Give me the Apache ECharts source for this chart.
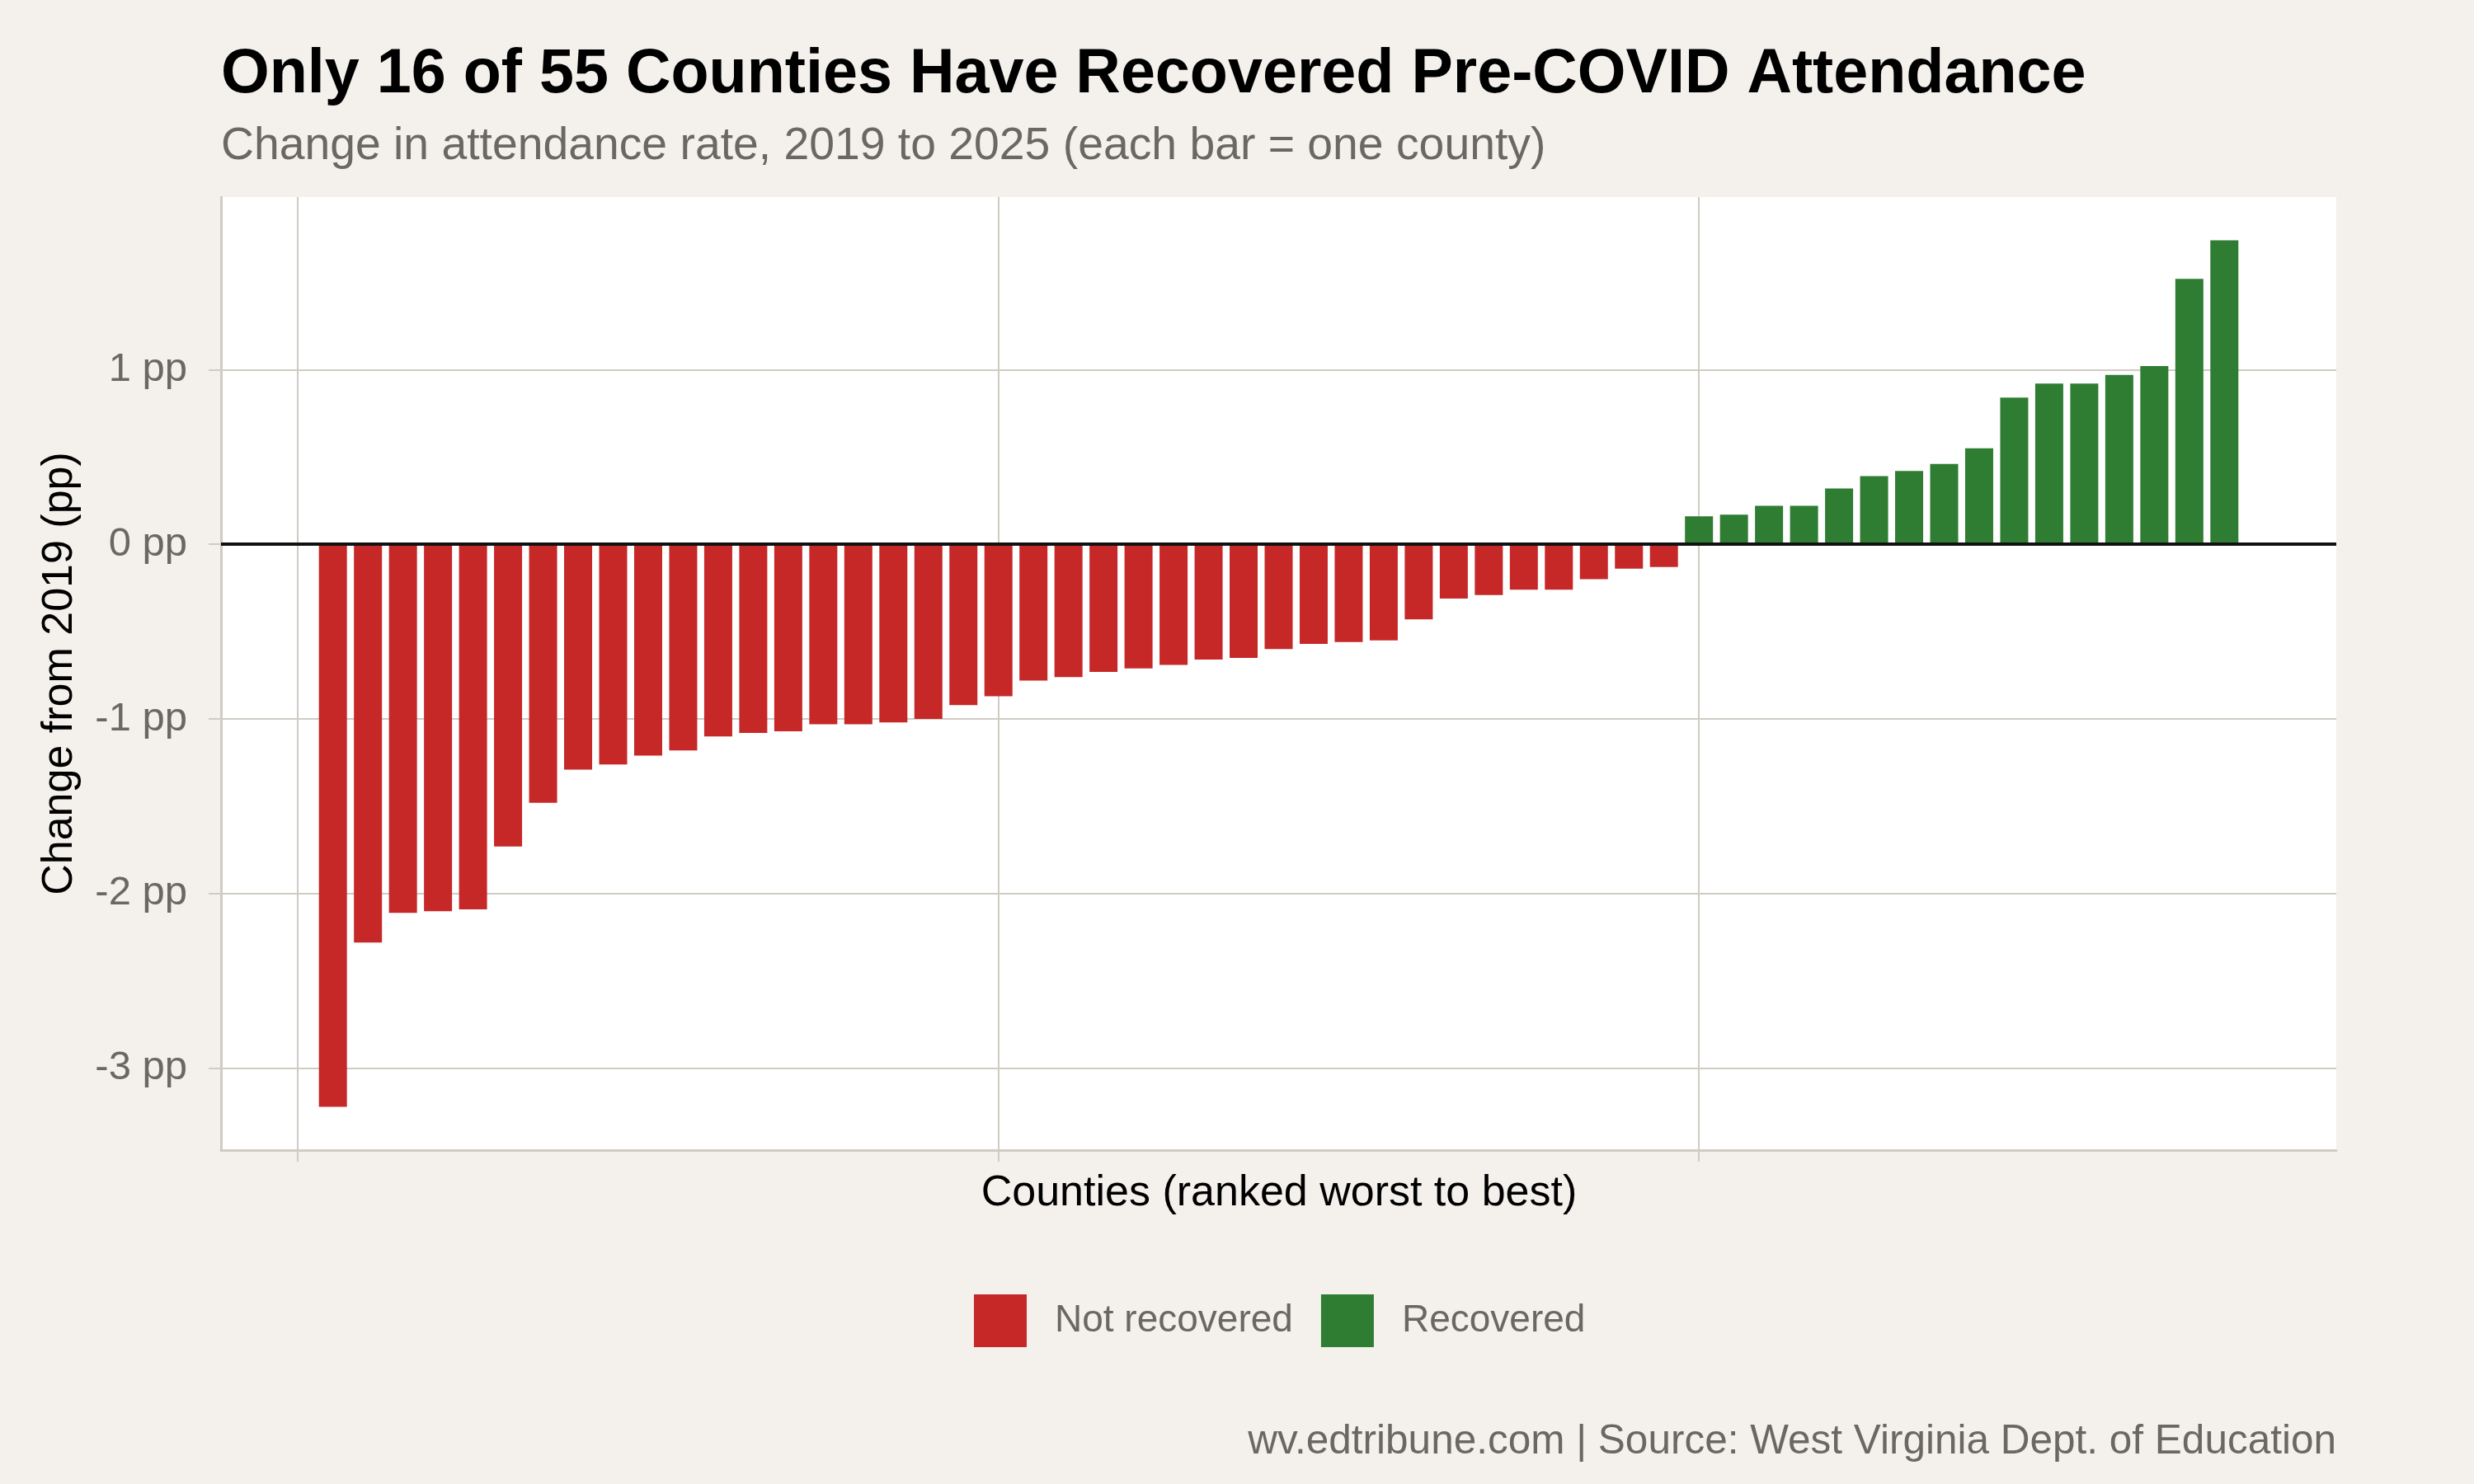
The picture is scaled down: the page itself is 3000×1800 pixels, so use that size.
<!DOCTYPE html>
<html>
<head>
<meta charset="utf-8">
<script src="https://cdn.jsdelivr.net/npm/echarts@6/dist/echarts.min.js"></script>
<style>
  html, body { margin: 0; padding: 0; background: #f4f1ec; }
  #chart { width: 3000px; height: 1800px; }
</style>
</head>
<body>
<div id="chart"></div>
<script>
// ---- Data ----
const notRecoveredValues = [-3.22, -2.28, -2.11, -2.10, -2.09, -1.73, -1.48, -1.29, -1.26, -1.21,
  -1.18, -1.10, -1.08, -1.07, -1.03, -1.03, -1.02, -1.00, -0.92, -0.87,
  -0.78, -0.76, -0.73, -0.71, -0.69, -0.66, -0.65, -0.60, -0.57, -0.56,
  -0.55, -0.43, -0.31, -0.29, -0.26, -0.26, -0.20, -0.14, -0.13];
const recoveredValues = [0.16, 0.17, 0.22, 0.22, 0.32, 0.39, 0.42, 0.46, 0.55, 0.84,
  0.92, 0.92, 0.97, 1.02, 1.52, 1.74];
const yTicks = [-3, -2, -1, 0, 1];
const xTicks = [0, 20, 40];
const seriesNames = ['Not recovered', 'Recovered'];
const titleText = 'Only 16 of 55 Counties Have Recovered Pre-COVID Attendance';
const subtitleText = 'Change in attendance rate, 2019 to 2025 (each bar = one county)';
const captionText = 'wv.edtribune.com | Source: West Virginia Dept. of Education';
const xTitle = 'Counties (ranked worst to best)';
const yTitle = 'Change from 2019 (pp)';

// ranks: counties ordered worst to best
const notRecData = notRecoveredValues.map((v, i) => [i + 1, v]);
const recData = recoveredValues.map((v, i) => [notRecoveredValues.length + i + 1, v]);

const FONT = "'Liberation Sans', Arial, Helvetica, sans-serif";
const GRID_COLOR = '#d0cbc3';
const GREY_TEXT = '#6b6762';

const chart = echarts.init(document.getElementById('chart'), null, { renderer: 'canvas' });

const option = {
  backgroundColor: '#f4f1ec',
  animation: false,
  textStyle: { fontFamily: FONT },
  grid: {
    left: 268, right: 167, top: 239, bottom: 405,
    show: true, backgroundColor: '#ffffff', borderWidth: 0
  },
  xAxis: {
    type: 'value',
    min: -2.195, max: 58.195,
    axisLine: { show: true, onZero: false, lineStyle: { color: GRID_COLOR, width: 3 } },
    axisTick: { show: true, customValues: xTicks, length: 14, lineStyle: { color: GRID_COLOR, width: 2 } },
    axisLabel: { show: false, customValues: xTicks },
    splitLine: { show: true, lineStyle: { color: GRID_COLOR, width: 2 } }
  },
  yAxis: {
    type: 'value',
    min: -3.468, max: 1.988,
    axisLine: { show: true, onZero: false, lineStyle: { color: GRID_COLOR, width: 3 } },
    axisTick: { show: true, customValues: yTicks, length: 15, lineStyle: { color: GRID_COLOR, width: 2 } },
    axisLabel: {
      show: true, customValues: yTicks, margin: 41,
      fontSize: 49, color: GREY_TEXT, fontFamily: FONT,
      formatter: v => v + ' pp'
    },
    splitLine: { show: true, lineStyle: { color: GRID_COLOR, width: 2 } }
  },
  legend: {
    data: seriesNames,
    left: 1176, top: 1565,
    icon: 'rect', itemWidth: 64, itemHeight: 64, itemGap: 34,
    textStyle: { fontSize: 46, color: GREY_TEXT, fontFamily: FONT, padding: [0, 0, 0, 29] }
  },
  series: [
    {
      name: seriesNames[0], type: 'bar', data: notRecData,
      barWidth: 34, barGap: '-100%',
      itemStyle: { color: '#c62828' },
      markLine: {
        silent: true, symbol: 'none', animation: false,
        label: { show: false },
        lineStyle: { color: '#111111', width: 4, type: 'solid' },
        data: [{ yAxis: 0 }]
      }
    },
    {
      name: seriesNames[1], type: 'bar', data: recData,
      barWidth: 34, barGap: '-100%',
      itemStyle: { color: '#2e7d32' }
    }
  ],
  graphic: [
    { type: 'text', x: 268, y: 53, style: { text: titleText, font: "bold 75.5px " + FONT, fill: '#000000', textAlign: 'left', textVerticalAlign: 'top', align: 'left', verticalAlign: 'top' } },
    { type: 'text', x: 268, y: 150, style: { text: subtitleText, font: "55.3px " + FONT, fill: GREY_TEXT, textAlign: 'left', textVerticalAlign: 'top', align: 'left', verticalAlign: 'top' } },
    { type: 'text', x: 1551, y: 1422, style: { text: xTitle, font: "52px " + FONT, fill: '#000000', textAlign: 'center', textVerticalAlign: 'top', align: 'center', verticalAlign: 'top' } },
    { type: 'text', x: 73, y: 817, rotation: Math.PI / 2, style: { text: yTitle, font: "52px " + FONT, fill: '#000000', textAlign: 'center', textVerticalAlign: 'middle', align: 'center', verticalAlign: 'middle' } },
    { type: 'text', x: 2833, y: 1724, style: { text: captionText, font: "49.5px " + FONT, fill: GREY_TEXT, textAlign: 'right', textVerticalAlign: 'top', align: 'right', verticalAlign: 'top' } }
  ]
};
chart.setOption(option);
</script>
</body>
</html>
